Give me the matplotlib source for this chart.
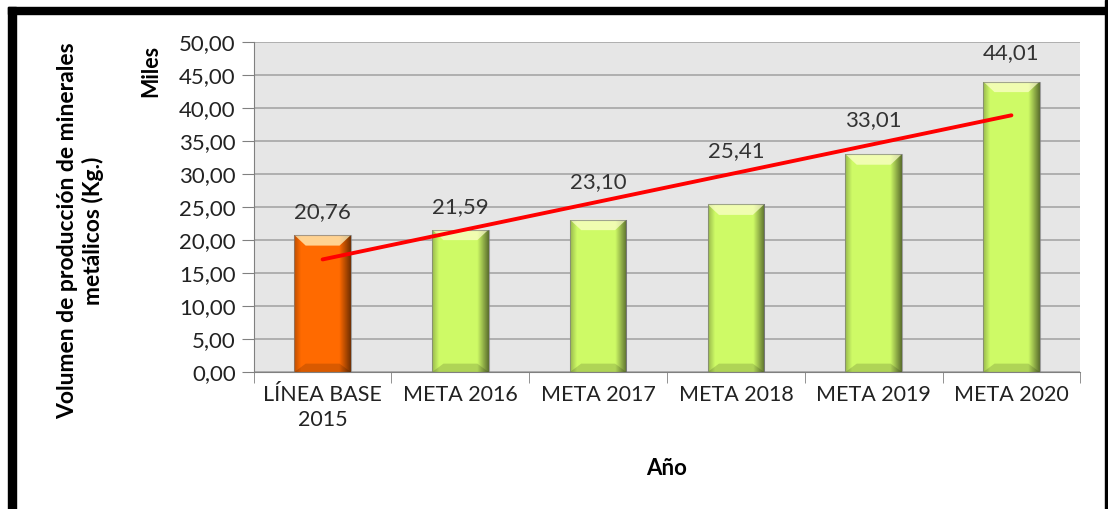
import numpy as np
import matplotlib
matplotlib.use("Agg")
from matplotlib import pyplot as plt
from matplotlib.patches import Rectangle, Polygon

categories = ["LÍNEA BASE\n2015", "META 2016", "META 2017", "META 2018", "META 2019", "META 2020"]
values = [20.76, 21.59, 23.10, 25.41, 33.01, 44.01]
bar_colors = ["#ff6a00", "#cefa66", "#cefa66", "#cefa66", "#cefa66", "#cefa66"]
y_ticks = [0, 5, 10, 15, 20, 25, 30, 35, 40, 45, 50]
# labels were nudged up in the original to clear the trend line (points)
label_offsets = [9, 9, 20, 31, 17, 13]

plt.rcParams['font.family'] = ['Lato', 'DejaVu Sans']

fig = plt.figure(figsize=(11.08, 5.09), dpi=100)
ax = fig.add_axes([0.229, 0.269, 0.746, 0.6485])
ax.set_facecolor("#e6e6e6")

x = np.arange(len(values))
bars = ax.bar(x, values, width=0.41, color=bar_colors, edgecolor="none", zorder=2)

# shading to get the bevel look
shade = np.linspace(0, 1, 60)
prof = np.where(shade < 0.12, 0.25 * (1 - shade / 0.12), 0) + np.where(shade > 0.8, 0.55 * (shade - 0.8) / 0.2, 0)
alpha_img = np.zeros((2, 60, 4))
alpha_img[..., 3] = prof
for b, c in zip(bars, bar_colors):
    x0, w, h = b.get_x(), b.get_width(), b.get_height()
    im = ax.imshow(alpha_img, extent=(x0, x0 + w, 0, h), aspect="auto", zorder=3, interpolation="bilinear")
    im.set_clip_path(b)
    bev = 1.6
    inset = w * 0.2
    top = Polygon([(x0, h), (x0 + w, h), (x0 + w - inset, h - bev), (x0 + inset, h - bev)],
                  closed=True, facecolor="#ffffd0", alpha=0.7, edgecolor="none", zorder=4)
    ax.add_patch(top)
    bot = Polygon([(x0, 0), (x0 + w, 0), (x0 + w - inset, bev * 0.8), (x0 + inset, bev * 0.8)],
                  closed=True, facecolor="black", alpha=0.15, edgecolor="none", zorder=4)
    ax.add_patch(bot)
    ax.add_patch(Rectangle((x0, 0), w, h, facecolor="none", edgecolor="#808080", lw=0.8, alpha=0.7, zorder=5))

for xi, v, off in zip(x, values, label_offsets):
    ax.annotate(f"{v:.2f}".replace(".", ","), (xi, v), xytext=(0, off), textcoords="offset points",
                ha="center", va="bottom", fontsize=16, color="#333333", zorder=6)

# linear trend line
coef = np.polyfit(x, values, 1)
ax.plot(x, np.polyval(coef, x), color="#ff0000", lw=2.8, zorder=7, solid_capstyle="round")

ax.set_xlim(-0.5, len(values) - 0.5)
ax.set_ylim(0, 50)
ax.set_yticks(y_ticks)
ax.set_yticklabels([f"{t:.2f}".replace(".", ",") for t in y_ticks], fontsize=16, color="#222222")
ax.set_xticks(x)
ax.set_xticklabels(categories, fontsize=15.5, color="#222222", linespacing=1.35)
ax.set_xticks(np.arange(-0.5, len(values)), minor=True)
ax.tick_params(axis="x", which="major", length=0, pad=9)
ax.tick_params(axis="x", which="minor", length=8, color="#808080")
ax.tick_params(axis="y", length=9, color="#808080", pad=4)
ax.grid(axis="y", color="#a6a6a6", lw=1.2, zorder=1)
ax.set_axisbelow(True)
for s in ["top", "right"]:
    ax.spines[s].set_visible(False)
for s in ["left", "bottom"]:
    ax.spines[s].set_color("#808080")

ax.set_xlabel("Año", fontsize=16, fontweight="bold", labelpad=20)
fig.text(0.073, 0.546, "Volumen de producción de minerales\nmetálicos (Kg.)", rotation=90,
         ha="center", va="center", fontsize=16.5, fontweight="bold", multialignment="center", linespacing=1.2)
fig.text(0.136, 0.86, "Miles", rotation=90, ha="center", va="center", fontsize=15.5, fontweight="bold")

# black frame
fig.patches.append(Rectangle((8 / 1108, 0), 8 / 1108, 1 - 7 / 509, transform=fig.transFigure, color="black"))
fig.patches.append(Rectangle((8 / 1108, 1 - 14 / 509), 1 - 8 / 1108, 7 / 509, transform=fig.transFigure, color="black"))
fig.patches.append(Rectangle((1105 / 1108, 0), 3 / 1108, 1, transform=fig.transFigure, color="black"))

fig.savefig("out.png", dpi=100)
